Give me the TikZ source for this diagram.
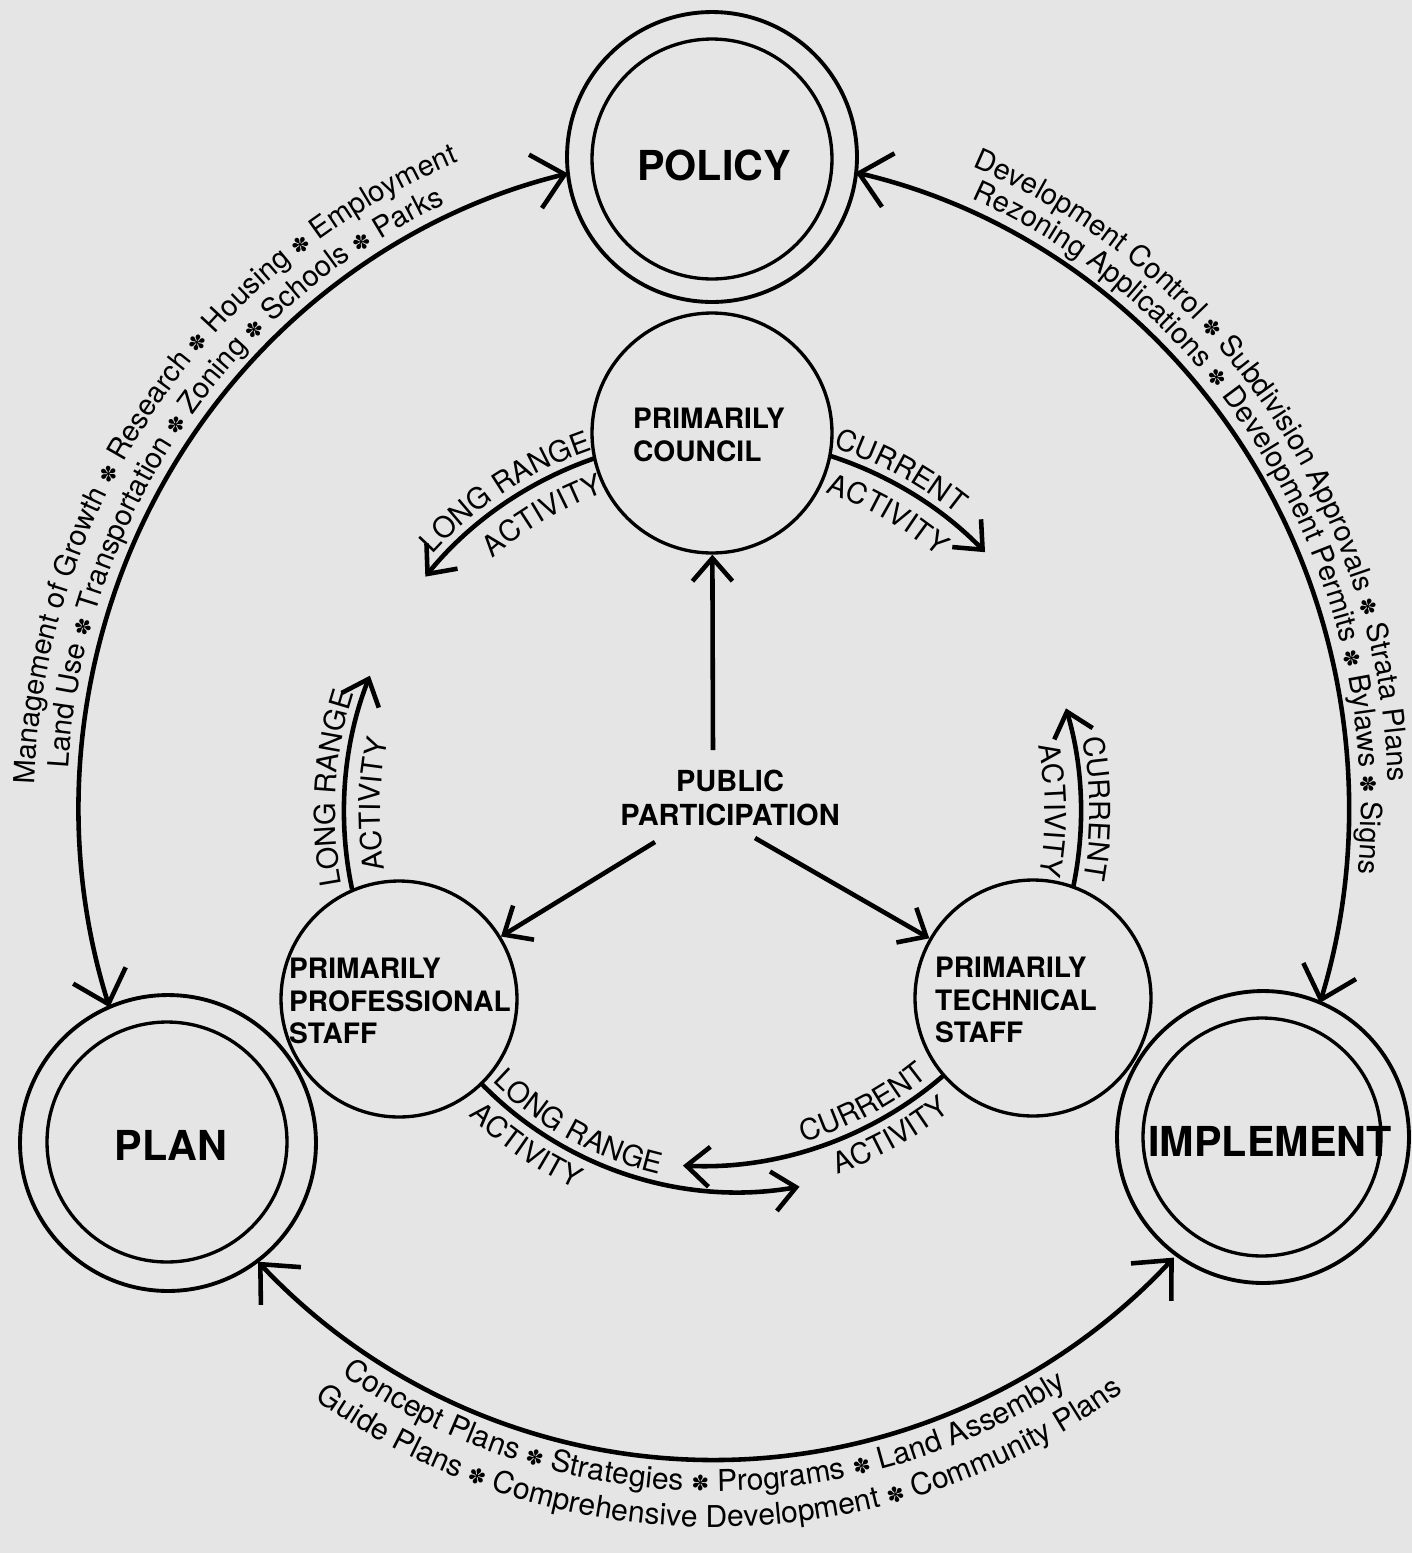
\documentclass[tikz,border=0pt]{standalone}
\usepackage{fontspec}
\setmainfont{TeX Gyre Heros}
\newfontfamily\starfam{DejaVu Sans}
\usetikzlibrary{arrows.meta,decorations.text}
\newcommand\arcf{\fontsize{16.5}{19}\selectfont\mdseries\rmfamily}
\newcommand\arcg{\fontsize{17.1}{19}\selectfont\mdseries\rmfamily}
\newcommand\starf{\fontsize{12}{14}\selectfont\starfam}
\begin{document}
\begin{tikzpicture}[x=0.02cm,y=-0.02cm,
  ring/.style={circle,draw,line width=2.2pt,inner sep=0pt},
  inring/.style={circle,draw,line width=1.9pt,inner sep=0pt},
  conn/.style={line width=2.6pt},
  bighead/.style={>={Straight Barb[length=6mm,width=11mm]}},
  smallhead/.style={>={Straight Barb[length=4.6mm,width=8mm]}},
  bigword/.style={font=\fontsize{23.5}{28}\selectfont\bfseries,inner sep=0pt},
  boldlbl/.style={font=\fontsize{16}{18.5}\selectfont\bfseries,inner sep=0pt},
  arctext/.style={decorate,decoration={text along path,text align=center,text={#1}}}
]
\useasboundingbox (0,0) rectangle (1412,1553);
\fill[black!10] (0,0) rectangle (1412,1553);

% main double circles
\node[ring,minimum size=5.8cm] (policy) at (712,157) {};
\node[inring,minimum size=4.8cm] (policyin) at (712,159) {};
\node[bigword] (policyt) at (714,165) {POLICY};

\node[ring,minimum size=5.92cm] (plan) at (168,1143) {};
\node[inring,minimum size=4.8cm] (planin) at (167,1142) {};
\node[bigword] (plant) at (171,1145) {PLAN};

\node[ring,minimum size=5.84cm] (impl) at (1263,1137) {};
\node[inring,minimum size=4.76cm] (implin) at (1262,1137) {};
\node[bigword] (implt) at (1270,1141) {IMPLEMENT};

% small circles
\node[inring,minimum size=4.8cm] (council) at (712,433) {};
\node[boldlbl,align=left] (councilt) at (709,435) {PRIMARILY\\COUNCIL};
\node[inring,minimum size=4.72cm] (prof) at (399,999) {};
\node[boldlbl,align=left] (proft) at (400,1001) {PRIMARILY\\PROFESSIONAL\\STAFF};
\node[inring,minimum size=4.72cm] (tech) at (1033,998) {};
\node[boldlbl,align=left] (techt) at (1016,1000) {PRIMARILY\\TECHNICAL\\STAFF};

\node[boldlbl,align=center,font=\fontsize{16.5}{19}\selectfont\bfseries] (pp) at (730,798) {PUBLIC\\PARTICIPATION};
\coordinate (ppN) at (713,750);
\coordinate (ppW) at (655,842);
\coordinate (ppE) at (755,838);

% straight arrows from public participation
\draw[conn,smallhead,->] (ppN) -- (council);
\draw[conn,smallhead,->] (ppW) -- (prof);
\draw[conn,smallhead,->] (ppE) -- (tech);

% big connecting arcs
\coordinate (bL1) at ({714+635*cos(162.2)},{808+652*sin(162.2)});
\draw[conn,bighead,<->] (bL1) arc[start angle=162.2,end angle=256.7,x radius=635,y radius=652];
\coordinate (bR1) at ({714+635*cos(-77.1)},{808+652*sin(-77.1)});
\draw[conn,bighead,<->] (bR1) arc[start angle=-77.1,end angle=17.4,x radius=635,y radius=652];
\coordinate (bB1) at ({714+635*cos(135.9)},{808+652*sin(135.9)});
\draw[conn,bighead,<->] (bB1) arc[start angle=135.9,end angle=43.6,x radius=635,y radius=652];

% big arc texts
\path[arctext={|\arcf|Management of Growth |\starf|✽|\arcf| Research |\starf|✽|\arcf| Housing |\starf|✽|\arcf| Employment}]
  ({714+680*cos(173)},{808+697*sin(173)}) arc[start angle=173,end angle=257,x radius=680,y radius=697];
\path[arctext={|\arcf|Land Use |\starf|✽|\arcf| Transportation |\starf|✽|\arcf| Zoning |\starf|✽|\arcf| Schools |\starf|✽|\arcf| Parks}]
  ({714+647*cos(176)},{808+664*sin(176)}) arc[start angle=176,end angle=253,x radius=647,y radius=664];
\path[arctext={|\arcf|Development Control |\starf|✽|\arcf| Subdivision Approvals |\starf|✽|\arcf| Strata Plans}]
  ({714+675*cos(-77)},{808+694*sin(-77)}) arc[start angle=-77,end angle=7,x radius=675,y radius=694];
\path[arctext={|\arcf|Rezoning Applications |\starf|✽|\arcf| Development Permits |\starf|✽|\arcf| Bylaws |\starf|✽|\arcf| Signs}]
  ({714+647*cos(-72)},{808+664*sin(-72)}) arc[start angle=-72,end angle=11,x radius=647,y radius=664];
\path[arctext={|\arcg|Concept Plans |\starf|✽|\arcg| Strategies |\starf|✽|\arcg| Programs |\starf|✽|\arcg| Land Assembly}]
  ({714+666*cos(133)},{808+683*sin(133)}) arc[start angle=133,end angle=49,x radius=666,y radius=683];
\path[arctext={|\arcg|Guide Plans |\starf|✽|\arcg| Comprehensive Development |\starf|✽|\arcg| Community Plans}]
  ({714+702*cos(132)},{808+719*sin(132)}) arc[start angle=132,end angle=47,x radius=702,y radius=719];

% activity arcs around council
\coordinate (cl0) at ({716+374*cos(251)},{812+374*sin(251)});
\draw[conn,smallhead,->] (cl0) arc[start angle=251,end angle=219,radius=374];
\coordinate (cr0) at ({716+374*cos(-72.3)},{812+374*sin(-72.3)});
\draw[conn,smallhead,->] (cr0) arc[start angle=-72.3,end angle=-44,radius=374];
\path[arctext={|\arcf|LONG RANGE}] ({716+383*cos(206.7)},{812+383*sin(206.7)}) arc[start angle=206.7,end angle=266.7,radius=383];
\path[arctext={|\arcf|ACTIVITY}] ({716+338*cos(209.7)},{812+338*sin(209.7)}) arc[start angle=209.7,end angle=269.7,radius=338];
\path[arctext={|\arcf|CURRENT}] ({716+383*cos(-91.6)},{812+383*sin(-91.6)}) arc[start angle=-91.6,end angle=-31.6,radius=383];
\path[arctext={|\arcf|ACTIVITY}] ({716+338*cos(-90)},{812+338*sin(-90)}) arc[start angle=-90,end angle=-30,radius=338];

% professional staff arc
\coordinate (pf0) at ({716+372*cos(168)},{812+372*sin(168)});
\draw[conn,smallhead,->] (pf0) arc[start angle=168,end angle=201.5,radius=372];
\path[arctext={|\arcf|LONG RANGE}] ({716+381*cos(153.6)},{812+381*sin(153.6)}) arc[start angle=153.6,end angle=213.6,radius=381];
\path[arctext={|\arcf|ACTIVITY}] ({716+336*cos(151.3)},{812+336*sin(151.3)}) arc[start angle=151.3,end angle=211.3,radius=336];

% technical staff arc
\coordinate (tc0) at ({716+365*cos(12)},{812+365*sin(12)});
\draw[conn,smallhead,->] (tc0) arc[start angle=12,end angle=-16.5,radius=365];
\path[arctext={|\arcf|CURRENT}] ({716+374*cos(-30.5)},{812+374*sin(-30.5)}) arc[start angle=-30.5,end angle=29.5,radius=374];
\path[arctext={|\arcf|ACTIVITY}] ({716+329*cos(-30.3)},{812+329*sin(-30.3)}) arc[start angle=-30.3,end angle=29.7,radius=329];

% bottom activity arcs
\coordinate (lb0) at ({738+358*cos(135.8)},{834+358*sin(135.8)});
\draw[conn,smallhead,->] (lb0) arc[start angle=135.8,end angle=80.1,radius=358];
\path[arctext={|\arcf|LONG RANGE}] ({738+349*cos(148.9)},{834+349*sin(148.9)}) arc[start angle=148.9,end angle=88.9,radius=349];
\path[arctext={|\arcf|ACTIVITY}] ({738+390*cos(154.2)},{834+390*sin(154.2)}) arc[start angle=154.2,end angle=94.2,radius=390];

\coordinate (cb0) at ({701+370*cos(49)},{796+370*sin(49)});
\draw[conn,smallhead,->] (cb0) arc[start angle=49,end angle=92.8,radius=370];
\path[arctext={|\arcf|CURRENT}] ({701+361*cos(92.2)},{796+361*sin(92.2)}) arc[start angle=92.2,end angle=32.2,radius=361];
\path[arctext={|\arcf|ACTIVITY}] ({701+402*cos(90.9)},{796+402*sin(90.9)}) arc[start angle=90.9,end angle=30.9,radius=402];
\end{tikzpicture}
\end{document}
